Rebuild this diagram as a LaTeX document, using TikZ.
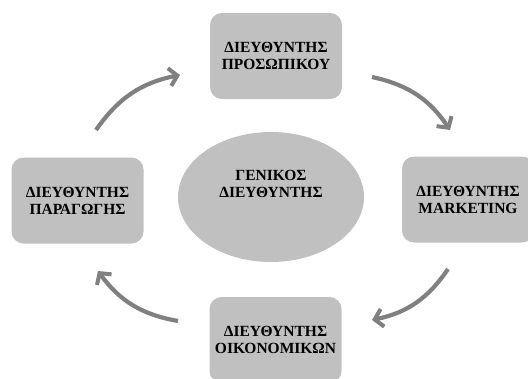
\documentclass[tikz,border=0pt]{standalone}
\usepackage{fontspec}
\setmainfont{Liberation Serif}
\usetikzlibrary{arrows.meta,shapes.geometric}
\definecolor{boxgray}{HTML}{C0C0C0}
\definecolor{arrowgray}{HTML}{808080}
\tikzset{
  x=1pt, y=-1pt,
  labeltext/.style={align=center, font=\fontsize{15.5}{17}\selectfont\bfseries},
  unitbox/.style={labeltext, draw=none, fill=boxgray, rounded corners=12pt,
    minimum width=132pt, minimum height=86pt, inner sep=0pt},
  centreell/.style={ellipse, fill=boxgray, minimum width=186pt, minimum height=130pt,
    inner sep=0pt},
  cyclearrow/.style={draw=arrowgray, line width=4.2pt,
    -{Straight Barb[length=8pt,width=18pt,line width=4pt]}, bend left=22}
}
\begin{document}
\begin{tikzpicture}
\useasboundingbox (0,0) rectangle (528,378);
\clip (0,0) rectangle (528,378);
\node[unitbox] (top) at (276,56) {ΔΙΕΥΘΥΝΤΗΣ\\ΠΡΟΣΩΠΙΚΟΥ};
\node[unitbox] (left) at (77.5,200.5) {ΔΙΕΥΘΥΝΤΗΣ\\ΠΑΡΑΓΩΓΗΣ};
\node[unitbox] (right) at (468,199.5) {ΔΙΕΥΘΥΝΤΗΣ\\MARKETING};
\node[unitbox] (bottom) at (275.5,340) {ΔΙΕΥΘΥΝΤΗΣ\\ΟΙΚΟΝΟΜΙΚΩΝ};
\node[centreell] (gm) at (271,197) {};
\node[labeltext] (gmtext) at (271,184) {ΓΕΝΙΚΟΣ\\ΔΙΕΥΘΥΝΤΗΣ};
\coordinate (a1s) at (96,130);
\coordinate (a1e) at (180,75);
\coordinate (a2s) at (372,77);
\coordinate (a2e) at (450,130);
\coordinate (a3s) at (448,269);
\coordinate (a3e) at (372,320);
\coordinate (a4s) at (178,321);
\coordinate (a4e) at (98,271);
\draw[cyclearrow] (a1s) to (a1e);
\draw[cyclearrow] (a2s) to (a2e);
\draw[cyclearrow] (a3s) to (a3e);
\draw[cyclearrow] (a4s) to (a4e);
\end{tikzpicture}
\end{document}
